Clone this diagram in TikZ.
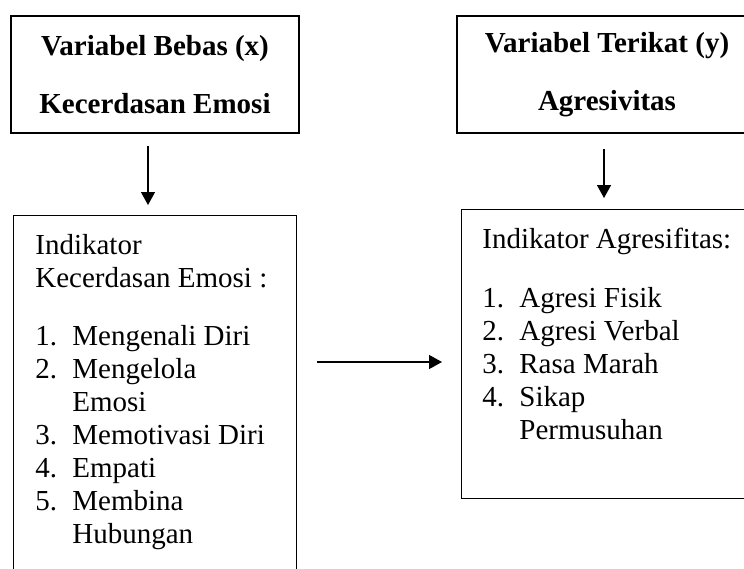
\documentclass[tikz,border=0pt]{standalone}
\usepackage{fontspec}
\setmainfont{Liberation Serif}
\usetikzlibrary{arrows.meta, positioning}
\newcommand{\listItem}[2]{\makebox[18.5pt][l]{#1}#2}
\tikzset{
    varBox/.style={draw=black, line width=0.8pt, inner sep=0pt, align=center, font=\fontsize{14.5}{16.5}\selectfont\bfseries},
    indBox/.style={draw=black, line width=0.7pt, inner sep=0pt, anchor=north west},
    indText/.style={inner sep=0pt, anchor=north west, align=left, font=\fontsize{14.5}{16.5}\selectfont},
    linkArrow/.style={-{Triangle[length=6.5pt, width=7pt]}, line width=0.7pt}
}

\begin{document}
\begin{tikzpicture}[x=0.5pt, y=-0.5pt]
    \clip (0,0) rectangle (744,568);
    % --- Variables ---
    \node[varBox, minimum width=144pt, minimum height=58.5pt] (bebas) at (155,74.5)
        {Variabel Bebas (x)\\[12.5pt]Kecerdasan Emosi};
    \node[varBox, minimum width=150pt, minimum height=58.5pt] (terikat) at (607,74.5)
        {Variabel Terikat (y)\\[12.5pt]Agresivitas};
    % --- Indicators x ---
    \node[indBox, minimum width=141.5pt, minimum height=187.5pt] (indX) at (13,215) {};
    \node[indText] (indXtext) at (35,234)
        {Indikator\\Kecerdasan Emosi :\\[12.5pt]
         \listItem{1.}{Mengenali Diri}\\
         \listItem{2.}{Mengelola}\\
         \listItem{}{Emosi}\\
         \listItem{3.}{Memotivasi Diri}\\
         \listItem{4.}{Empati}\\
         \listItem{5.}{Membina}\\
         \listItem{}{Hubungan}};
    % --- Indicators y ---
    \node[indBox, minimum width=149.5pt, minimum height=144.5pt] (indY) at (461,209) {};
    \node[indText] (indYtext) at (482,228)
        {Indikator Agresifitas:\\[13pt]
         \listItem{1.}{Agresi Fisik}\\
         \listItem{2.}{Agresi Verbal}\\
         \listItem{3.}{Rasa Marah}\\
         \listItem{4.}{Sikap}\\
         \listItem{}{Permusuhan}};
    % --- Arrows ---
    \coordinate (mid) at (0,362);
    \draw[linkArrow, shorten <=6pt, shorten >=5pt] ([xshift=-3.5pt]bebas.south) -- ([xshift=-3.5pt]bebas.south |- indX.north);
    \draw[linkArrow, shorten <=7.5pt, shorten >=5.5pt] ([xshift=-1.5pt]terikat.south) -- ([xshift=-1.5pt]terikat.south |- indY.north);
    \draw[linkArrow, shorten <=10pt, shorten >=9.5pt] (indX.east |- mid) -- (indY.west |- mid);
\end{tikzpicture}
\end{document}
